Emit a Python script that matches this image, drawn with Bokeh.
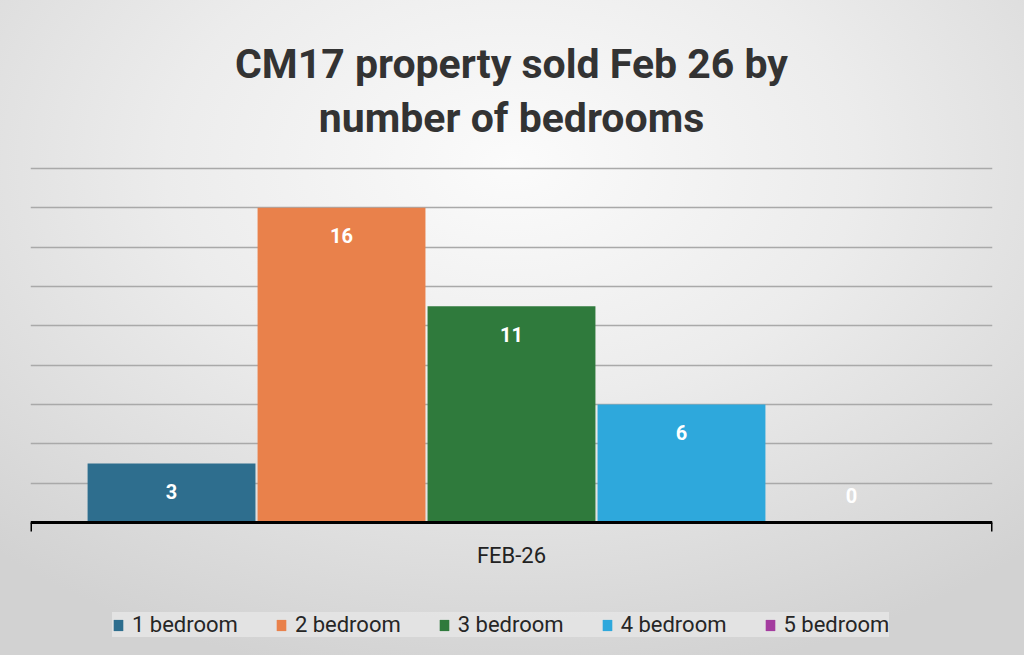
from bokeh.plotting import figure
from bokeh.models import (Range1d, FixedTicker, Legend, LegendItem, Label, Grid, Span)
from bokeh.transform import dodge
from bokeh.core.properties import value
from bokeh.embed import file_html
from bokeh.resources import INLINE

months = ["FEB-26"]
series = ["1 bedroom", "2 bedroom", "3 bedroom", "4 bedroom", "5 bedroom"]
sold = [3, 16, 11, 6, 0]
colors = ["#2e6e8e", "#e9814b", "#2f7a3c", "#2ea8dc", "#a43c9f"]
title_lines = ["CM17 property sold Feb 26 by", "number of bedrooms"]
y_max = 18
grid_step = 2

FONT = "Roboto"
pos = list(range(len(months)))

# layout (pixels): plot area 354 px tall for 0..y_max, 168 px above it, 133 px below it
W, H = 1024, 655
top_px, bottom_px, plot_px = 168, 133, 354
px_per_unit = plot_px / y_max
y_start = -bottom_px / px_per_unit
y_end = y_max + top_px / px_per_unit

p = figure(x_range=Range1d(-0.5, len(months) - 0.5), y_range=Range1d(y_start, y_end),
           frame_width=962, frame_height=H, title=None,
           output_backend="svg", toolbar_location=None,
           x_axis_location=None, y_axis_location=None,
           min_border_left=30, min_border_right=32, min_border_top=0, min_border_bottom=0)
p.styles = {"background": "radial-gradient(ellipse 75% 80% at 50% 25%, #fbfbfb 0%, #ececec 45%, #d2d2d2 100%)"}
p.background_fill_alpha = 0
p.border_fill_alpha = 0
p.outline_line_color = None
for g in p.grid:
    g.visible = False

grid_ticks = list(range(grid_step, y_max + 1, grid_step))
grid = Grid(dimension=1, ticker=FixedTicker(ticks=grid_ticks),
            grid_line_color="#a9a9a9", grid_line_width=1.3)
p.add_layout(grid)

# bars and value labels
step = 0.1767
bar_w = 0.1745
renderers = []
for i, (s, v, c) in enumerate(zip(series, sold, colors)):
    off = (i - (len(series) - 1) / 2) * step
    src = {"m": pos, "v": [v], "t": [str(v)]}
    r = p.vbar(x=dodge("m", off), top="v", width=bar_w, source=src,
               fill_color=c, line_color=None)
    renderers.append(r)
    p.text(x=dodge("m", off), y="v", text="t", source=src,
           y_offset=28 if v > 0 else -27, text_align="center", text_baseline="middle",
           text_color="white", text_font=value(FONT), text_font_style="bold",
           text_font_size="20px")

# category axis: baseline, boundary ticks, category label
p.add_layout(Span(location=0, dimension="width", line_color="black", line_width=3))
bounds = [k - 0.5 for k in range(len(months) + 1)]
tick_len = 9 / px_per_unit
p.segment(x0=bounds, y0=[0] * len(bounds), x1=bounds, y1=[-tick_len] * len(bounds),
          line_color="black", line_width=3)
p.text(x=pos, y=[0] * len(pos), text=months, y_offset=33, text_align="center",
       text_baseline="middle", text_font=value(FONT), text_font_size="22px",
       text_color="#222222")

# legend
legend = Legend(items=[LegendItem(label=s, renderers=[r]) for s, r in zip(series, renderers)],
                orientation="horizontal", location=(82, 18),
                glyph_width=12, glyph_height=14, label_standoff=8, spacing=37, padding=11,
                label_text_font=FONT, label_text_font_size="22px", label_text_color="#262626",
                background_fill_color="#e4e4e4", background_fill_alpha=0.9,
                border_line_color=None, margin=0)
p.add_layout(legend)

# two-line title
x_mid = (p.x_range.start + p.x_range.end) / 2
for line, base_px in zip(title_lines, [63, 117]):
    p.add_layout(Label(x=x_mid, y=H - base_px, x_units="data", y_units="screen",
                       text=line, text_align="center", text_baseline="alphabetic",
                       text_font=FONT, text_font_style="bold", text_font_size="41px",
                       text_color="#333333"))

open("out.html", "w").write(file_html(p, INLINE))
